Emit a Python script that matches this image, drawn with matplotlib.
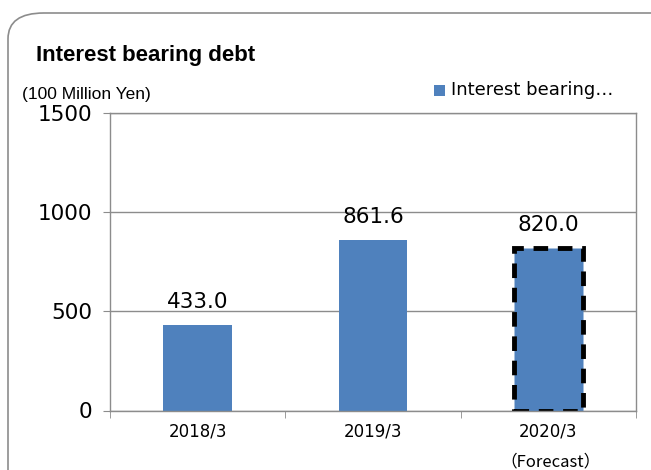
import matplotlib.pyplot as plt
from matplotlib.patches import FancyBboxPatch, Rectangle

# data
categories = ['2018/3', '2019/3', '2020/3']
values = [433.0, 861.6, 820.0]
labels = ['433.0', '861.6', '820.0']
forecast = [False, False, True]

bar_color = '#4F81BD'

fig = plt.figure(figsize=(6.51, 4.7), dpi=100)

# rounded frame around the chart
frame = FancyBboxPatch((8 / 651, -0.1), 1.2, (470 - 13) / 470 + 0.1,
                       boxstyle='round,pad=0,rounding_size=0.055',
                       transform=fig.transFigure, facecolor='white',
                       edgecolor='#8c8c8c', linewidth=1.2, zorder=-5)
fig.patches.append(frame)

ax = fig.add_axes([110 / 651, 1 - 410.5 / 470, 526 / 651, (410.5 - 113) / 470])
ax.set_zorder(2)
ax.set_facecolor('none')

x = range(len(categories))
bars = ax.bar(x, values, width=0.39, color=bar_color, zorder=2)
for b, f in zip(bars, forecast):
    if f:
        b.set_edgecolor('black')
        b.set_linewidth(3.5)
        b.set_linestyle((0, (3, 2)))

for i, v in enumerate(values):
    ax.text(i, v + 85, labels[i], ha='center', va='baseline', fontsize=15.5,
            color='black', zorder=3)

ax.set_xlim(-0.5, len(categories) - 0.5)
ax.set_ylim(0, 1500)
ax.set_yticks([0, 500, 1000, 1500])
ax.yaxis.grid(True, color='#8c8c8c', linewidth=1)
ax.set_axisbelow(True)
ax.tick_params(axis='y', labelsize=15.5, length=5, color='#8c8c8c', pad=8)
ax.set_xticks(list(x))
ax.set_xticklabels(categories, fontsize=12)
ax.tick_params(axis='x', length=0, pad=9)
# minor ticks between categories
ax.set_xticks([-0.5, 0.5, 1.5, 2.5], minor=True)
ax.tick_params(axis='x', which='minor', length=5, color='#8c8c8c')
for s in ax.spines.values():
    s.set_color('#8c8c8c')
    s.set_linewidth(1)

fig.text(36 / 651, 1 - 55 / 470, 'Interest bearing debt', fontsize=16,
         fontweight='bold', va='center', ha='left', family='Liberation Sans')
fig.text(22 / 651, 1 - 95 / 470, '(100 Million Yen)', fontsize=12.5,
         va='center', ha='left', family='Liberation Sans')

fig.patches.append(Rectangle((434 / 651, 1 - 96 / 470), 11 / 651, 11 / 470,
                             transform=fig.transFigure, facecolor=bar_color,
                             edgecolor='none'))
fig.text(451 / 651, 1 - 90 / 470, 'Interest bearing…', fontsize=13,
         va='center', ha='left')

fig.text(551 / 651, 1 - 462 / 470, '（Forecast）', fontsize=12,
         va='center', ha='center', family=['Noto Sans CJK JP'])

fig.savefig('out.png', dpi=100)
